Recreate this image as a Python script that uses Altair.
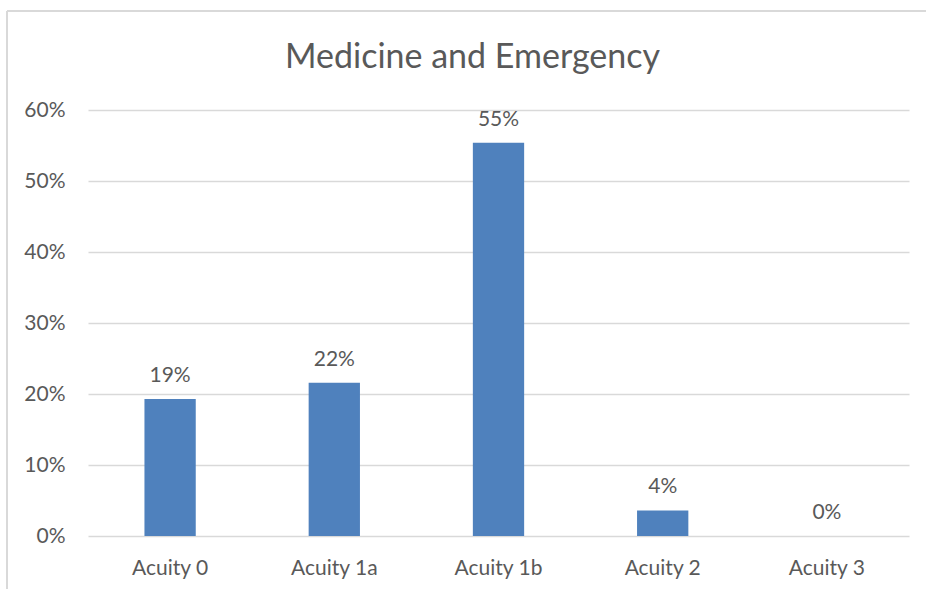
import altair as alt
import pandas as pd

categories = ["Acuity 0", "Acuity 1a", "Acuity 1b", "Acuity 2", "Acuity 3"]
shares = [0.193, 0.216, 0.554, 0.036, 0.0]
y_ticks = [0, 0.1, 0.2, 0.3, 0.4, 0.5, 0.6]

df = pd.DataFrame({"category": categories, "share": shares})

FONT = "Lato"
TEXT = "#595959"
GRID = "#d9d9d9"
BAR = "#4f81bd"

W, H = 821, 426

x_enc = alt.X(
    "category:N",
    sort=categories,
    scale=alt.Scale(paddingInner=0.6876, paddingOuter=0.3438),
    axis=alt.Axis(
        title=None, labelAngle=0, labelFont=FONT, labelFontSize=21,
        labelColor=TEXT, labelPadding=21, ticks=False, domain=False,
        grid=False,
    ),
)
y_enc = alt.Y(
    "share:Q",
    scale=alt.Scale(domain=[0, 0.6], nice=False),
    axis=alt.Axis(
        title=None, values=y_ticks, format=".0%", labelFont=FONT,
        labelFontSize=21, labelColor=TEXT, labelPadding=23, ticks=False,
        domain=False, grid=True, gridColor=GRID, gridWidth=1.6,
    ),
)

bars = alt.Chart(df).mark_bar(color=BAR).encode(x=x_enc, y=y_enc)

labels = alt.Chart(df).mark_text(
    font=FONT, fontSize=21, color=TEXT, baseline="alphabetic", dy=-17
).encode(
    x=alt.X("category:N", sort=categories),
    y=alt.Y("share:Q"),
    text=alt.Text("share:Q", format=".0%"),
)

border_left = alt.Chart(df).mark_rule(color=GRID, strokeWidth=2).encode(
    x=alt.value(-81), y=alt.value(-99), y2=alt.value(520)
)
border_top = alt.Chart(df).mark_rule(color=GRID, strokeWidth=2).encode(
    x=alt.value(-81), x2=alt.value(860), y=alt.value(-99)
)

chart = alt.layer(border_left, border_top, bars, labels).properties(
    width=W,
    height=H,
    title=alt.TitleParams(
        "Medicine and Emergency", font=FONT, fontSize=34, fontWeight="normal",
        color=TEXT, anchor="middle", baseline="alphabetic", offset=-92,
        frame="group", dx=-26,
    ),
    autosize=alt.AutoSizeParams(type="none"),
    padding={"left": 88, "top": 110, "right": 17, "bottom": 53},
    background="white",
).configure_view(stroke=None)

chart.save("out.html", embed_options={"renderer": "svg", "actions": False})
